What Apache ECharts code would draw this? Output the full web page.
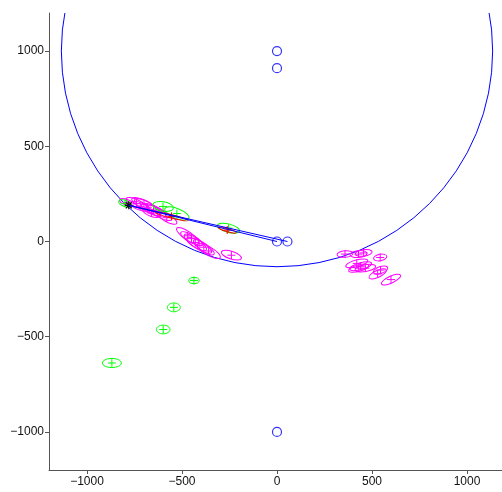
<!DOCTYPE html>
<html>
<head>
<meta charset="utf-8">
<script src="https://cdn.jsdelivr.net/npm/echarts@6/dist/echarts.min.js"></script>
<style>html,body{margin:0;padding:0;background:#fff;overflow:hidden;}#c{width:512px;height:492px;}</style>
</head>
<body>
<div id="c"></div>
<script>
// ---- data ----
const xTicks = [-1000, -500, 0, 500, 1000];
const yTicks = [-1000, -500, 0, 500, 1000];
const bigCircle = [[0, 1000, 1135]];               // [cx, cy, r]
const blueMarkers = [[0, 1000], [0, 910], [0, 0], [55, 0], [0, -1000]];
const starPoint = [[-780, 190]];
const rayA = [[-780, 190], [0, 0]];
const rayB = [[-780, 190], [55, 0]];
// ellipses: [x, y, rx, ry, angleDeg]
const greenEllipses = [
  [-800, 200, 35, 16, -20],
  [-600, 184, 55, 25, -10],
  [-527, 147, 68, 26, -22],
  [-255, 70, 60, 22, -15],
  [-437, -205, 28, 17, 0],
  [-543, -346, 34, 23, 0],
  [-599, -462, 36, 23, 0],
  [-869, -638, 50, 24, 0]
];
const redEllipses = [
  [-555, 132, 90, 9, -14],
  [-262, 60, 50, 8, -16]
];
const magentaEllipses = [
  [-790, 205, 40, 15, -20],
  [-740, 200, 60, 20, -25],
  [-720, 185, 55, 20, -20],
  [-700, 195, 70, 22, -25],
  [-680, 180, 80, 25, -30],
  [-660, 150, 50, 18, -20],
  [-650, 165, 70, 22, -25],
  [-620, 150, 75, 22, -28],
  [-580, 125, 60, 20, -30],
  [-470, 30, 70, 22, -35],
  [-450, 15, 65, 20, -30],
  [-430, -5, 70, 22, -35],
  [-410, -20, 75, 22, -30],
  [-385, -30, 65, 20, -35],
  [-360, -50, 70, 22, -30],
  [-240, -72, 55, 20, -18],
  [358, -66, 42, 17, 5],
  [429, -66, 45, 18, 5],
  [456, -60, 45, 17, 8],
  [543, -84, 35, 17, 10],
  [420, -115, 60, 18, 15],
  [440, -130, 60, 18, 15],
  [465, -140, 55, 18, 10],
  [430, -140, 55, 17, 15],
  [545, -150, 40, 18, 20],
  [530, -170, 50, 18, 25],
  [600, -200, 55, 18, 25]
];

// ---- rendering ----
const BLUE = '#0000ff', GREEN = '#00ff00', MAG = '#ff00ff', RED = '#ff0000';

function ellipseRenderer(color) {
  return function (params, api) {
    const c = api.coord([api.value(0), api.value(1)]);
    const s = api.size([api.value(2), api.value(3)]);
    const rot = api.value(4) * Math.PI / 180;
    return {
      type: 'group',
      children: [
        { type: 'ellipse', x: c[0], y: c[1], rotation: rot,
          shape: { cx: 0, cy: 0, rx: s[0], ry: s[1] },
          style: { fill: null, stroke: color, lineWidth: 1 } },
        { type: 'line', shape: { x1: c[0] - 4, y1: c[1], x2: c[0] + 4, y2: c[1] },
          style: { stroke: color, lineWidth: 1 } },
        { type: 'line', shape: { x1: c[0], y1: c[1] - 4, x2: c[0], y2: c[1] + 4 },
          style: { stroke: color, lineWidth: 1 } }
      ]
    };
  };
}

function starRenderer(params, api) {
  const c = api.coord([api.value(0), api.value(1)]);
  const a = 4, d = 3;
  const st = { stroke: '#000', lineWidth: 1.2 };
  return {
    type: 'group',
    children: [
      { type: 'line', shape: { x1: c[0] - a, y1: c[1], x2: c[0] + a, y2: c[1] }, style: st },
      { type: 'line', shape: { x1: c[0], y1: c[1] - a, x2: c[0], y2: c[1] + a }, style: st },
      { type: 'line', shape: { x1: c[0] - d, y1: c[1] - d, x2: c[0] + d, y2: c[1] + d }, style: st },
      { type: 'line', shape: { x1: c[0] - d, y1: c[1] + d, x2: c[0] + d, y2: c[1] - d }, style: st }
    ]
  };
}

function circleRenderer(params, api) {
  const c = api.coord([api.value(0), api.value(1)]);
  const s = api.size([api.value(2), api.value(2)]);
  return { type: 'circle', shape: { cx: c[0], cy: c[1], r: s[0] },
    style: { fill: null, stroke: BLUE, lineWidth: 1 } };
}

const fmt = v => String(v).replace('-', '\u2212');
const axisCommon = {
  type: 'value', min: -1200, max: 1200,
  splitLine: { show: false },
  axisLine: { show: true, onZero: false, lineStyle: { color: '#555', width: 1 } },
  axisTick: { show: true, inside: false, length: 4, lineStyle: { color: '#555' } },
  axisLabel: { color: '#111', fontSize: 12, fontFamily: 'Liberation Sans, Arial, sans-serif', formatter: fmt }
};

const chart = echarts.init(document.getElementById('c'), null, { renderer: 'canvas' });
chart.setOption({
  animation: false,
  backgroundColor: '#fff',
  grid: { left: 49, top: 13, width: 456, height: 457, containLabel: false },
  xAxis: Object.assign({}, axisCommon, {
    axisTick: Object.assign({}, axisCommon.axisTick, { customValues: xTicks }),
    axisLabel: Object.assign({}, axisCommon.axisLabel, { customValues: xTicks, margin: 6 })
  }),
  yAxis: Object.assign({}, axisCommon, {
    axisTick: Object.assign({}, axisCommon.axisTick, { customValues: yTicks }),
    axisLabel: Object.assign({}, axisCommon.axisLabel, { customValues: yTicks, margin: 5 })
  }),
  series: [
    { type: 'custom', name: 'circle', data: bigCircle, renderItem: circleRenderer, clip: true, silent: true },
    { type: 'custom', name: 'magenta', data: magentaEllipses, renderItem: ellipseRenderer(MAG), clip: true, silent: true },
    { type: 'custom', name: 'green', data: greenEllipses, renderItem: ellipseRenderer(GREEN), clip: true, silent: true },
    { type: 'custom', name: 'red', data: redEllipses, renderItem: ellipseRenderer(RED), clip: true, silent: true },
    { type: 'line', data: rayA, symbol: 'none', lineStyle: { color: BLUE, width: 1 }, silent: true },
    { type: 'line', data: rayB, symbol: 'none', lineStyle: { color: BLUE, width: 1 }, silent: true },
    { type: 'scatter', data: blueMarkers, symbol: 'circle', symbolSize: 9,
      itemStyle: { color: 'rgba(0,0,0,0)', borderColor: BLUE, borderWidth: 1.2 }, silent: true },
    { type: 'custom', name: 'star', data: starPoint, renderItem: starRenderer, silent: true }
  ]
});
</script>
</body>
</html>
